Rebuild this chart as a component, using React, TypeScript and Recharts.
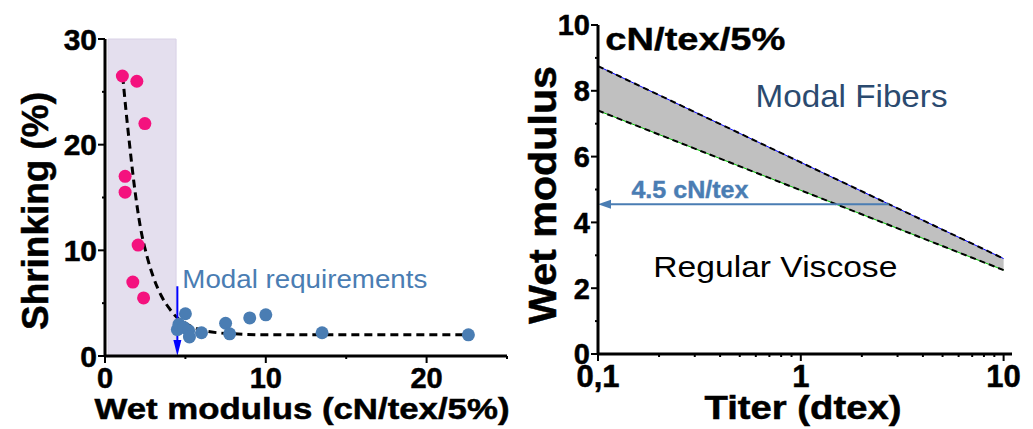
import React from 'react';
import {
  ComposedChart,
  Scatter,
  Line,
  Area,
  XAxis,
  YAxis,
  ReferenceArea,
  ReferenceLine,
  ReferenceDot,
} from 'recharts';

const FONT = '"Liberation Sans", Arial, Helvetica, sans-serif';
const PINK = '#f4127e';
const STEEL = '#4a7db3';

// left panel: shrinking (%) vs wet modulus (cN/tex/5%)
const viscosePoints = [
  { x: 1.08, y: 26.5 },
  { x: 1.98, y: 26.0 },
  { x: 2.48, y: 22.0 },
  { x: 1.25, y: 17.0 },
  { x: 1.25, y: 15.5 },
  { x: 2.06, y: 10.5 },
  { x: 1.73, y: 7.0 },
  { x: 2.4, y: 5.5 },
];

const modalPoints = [
  { x: 5.0, y: 4.0 },
  { x: 4.5, y: 2.5 },
  { x: 4.6, y: 3.0 },
  { x: 4.9, y: 2.7 },
  { x: 5.2, y: 2.4 },
  { x: 5.25, y: 1.8 },
  { x: 6.0, y: 2.2 },
  { x: 7.5, y: 3.1 },
  { x: 7.75, y: 2.1 },
  { x: 9.0, y: 3.6 },
  { x: 10.0, y: 3.9 },
  { x: 13.5, y: 2.2 },
  { x: 22.6, y: 2.0 },
];

// fitted trend
const trendCurve = [
  { x: 1.1, y: 26.5 },
  { x: 1.3, y: 23.3 },
  { x: 1.5, y: 20.4 },
  { x: 1.8, y: 16.4 },
  { x: 2.2, y: 12.2 },
  { x: 2.6, y: 9.5 },
  { x: 3.0, y: 7.5 },
  { x: 3.5, y: 5.7 },
  { x: 4.0, y: 4.5 },
  { x: 4.5, y: 3.6 },
  { x: 5.0, y: 3.1 },
  { x: 5.5, y: 2.7 },
  { x: 6.0, y: 2.45 },
  { x: 7.0, y: 2.2 },
  { x: 8.0, y: 2.1 },
  { x: 10.0, y: 2.0 },
  { x: 14.0, y: 2.0 },
  { x: 22.6, y: 2.0 },
];

const leftXTicks = [0, 5, 10, 15, 20, 25];
const leftXMajor = [0, 10, 20];
const leftYTicks = [0, 5, 10, 15, 20, 25, 30];
const leftYMajor = [0, 10, 20, 30];

// right panel: wet modulus vs titer (log)
const titer = [0.1, 10];
const modalLimit = [8.75, 2.9];
const viscoseLimit = [7.4, 2.55];

const rightXTicks = [0.1, 0.2, 0.3, 0.4, 0.5, 0.6, 0.7, 0.8, 0.9, 1, 2, 3, 4, 5, 6, 7, 8, 9, 10];
const rightXMajor = [0.1, 1, 10];
const rightXLabels = ['0,1', '1', '10'];
const rightYTicks = [0, 1, 2, 3, 4, 5, 6, 7, 8, 9, 10];
const rightYMajor = [0, 2, 4, 6, 8, 10];

const band = titer.map((t, i) => ({
  t,
  upper: modalLimit[i],
  lower: viscoseLimit[i],
  range: [viscoseLimit[i], modalLimit[i]],
}));

// bold text in the figure is heavier than plain bold
const heavy = { fontFamily: FONT, fontWeight: 'bold', fill: '#000', stroke: '#000', strokeWidth: 0.5 };

const BottomTick = (props: any) => {
  const { x, y, payload, majors, labels, fontSize, dy } = props;
  const idx = majors.indexOf(payload.value);
  const major = idx >= 0;
  return (
    <g>
      <line x1={x} y1={y} x2={x} y2={y + (major ? 7 : 3)} stroke="#000" strokeWidth={2} />
      {major && (
        <text x={x} y={y + dy} textAnchor="middle" fontSize={fontSize} {...heavy}>
          {labels ? labels[idx] : payload.value}
        </text>
      )}
    </g>
  );
};

const LeftTick = (props: any) => {
  const { x, y, payload, majors, fontSize } = props;
  const major = majors.includes(payload.value);
  return (
    <g>
      <line x1={x - (major ? 7 : 3)} y1={y} x2={x} y2={y} stroke="#000" strokeWidth={2} />
      {major && (
        <text x={x - 8} y={y + fontSize * 0.36} textAnchor="end" fontSize={fontSize} {...heavy}>
          {payload.value}
        </text>
      )}
    </g>
  );
};

const note = (str: string, opts: any) => (p: any) => (
  <text
    x={p.cx}
    y={p.cy}
    fontFamily={FONT}
    fontSize={opts.size}
    fontWeight={opts.bold ? 'bold' : 'normal'}
    fill={opts.color}
    stroke={opts.bold ? opts.color : 'none'}
    strokeWidth={opts.bold ? 0.4 : 0}
    textLength={opts.len}
    lengthAdjust="spacingAndGlyphs"
  >
    {str}
  </text>
);

const DownArrow = (p: any) => (
  <g>
    <line x1={p.x1} y1={p.y1} x2={p.x2} y2={p.y2 - 12} stroke="#0000ff" strokeWidth={2} />
    <polygon points={`${p.x2 - 4},${p.y2 - 16} ${p.x2 + 4},${p.y2 - 16} ${p.x2},${p.y2}`} fill="#0000ff" />
  </g>
);

const LeftArrow = (p: any) => (
  <g>
    <line x1={p.x1} y1={p.y1} x2={p.x2 + 10} y2={p.y2} stroke={STEEL} strokeWidth={2} />
    <polygon points={`${p.x2},${p.y2} ${p.x2 + 13},${p.y2 - 4.5} ${p.x2 + 13},${p.y2 + 4.5}`} fill={STEEL} />
  </g>
);

const axisLine = { stroke: '#000', strokeWidth: 3 };

export default function App() {
  return (
    <div style={{ position: 'absolute', left: 0, top: 0, width: 1033, height: 429, background: '#fff' }}>
      <div style={{ position: 'absolute', left: 0, top: 0 }}>
        <ComposedChart width={520} height={429} margin={{ top: 39, right: 13, bottom: 0, left: 0 }}>
          <XAxis
            type="number"
            dataKey="x"
            domain={[0, 25]}
            ticks={leftXTicks}
            interval={0}
            height={73}
            tickSize={0}
            tickMargin={0}
            tickLine={false}
            axisLine={axisLine}
            tick={(p: any) => <BottomTick {...p} majors={leftXMajor} fontSize={29} dy={32} />}
            label={() => (
              <text x={302} y={419} textAnchor="middle" fontSize={30} textLength={415} lengthAdjust="spacingAndGlyphs" {...heavy}>
                Wet modulus (cN/tex/5%)
              </text>
            )}
          />
          <YAxis
            type="number"
            dataKey="y"
            domain={[0, 30]}
            ticks={leftYTicks}
            interval={0}
            width={105}
            tickSize={0}
            tickMargin={0}
            tickLine={false}
            axisLine={axisLine}
            tick={(p: any) => <LeftTick {...p} majors={leftYMajor} fontSize={30} />}
            label={() => (
              <text x={48} y={211} transform="rotate(-90 48 211)" textAnchor="middle" fontSize={37} textLength={238} lengthAdjust="spacingAndGlyphs" {...heavy}>
                Shrinking (%)
              </text>
            )}
          />
          <ReferenceArea x1={0.19} x2={4.42} y1={0} y2={30} fill="#e4dfee" fillOpacity={1} stroke="#d9d2e6" strokeWidth={1} />
          <Line data={trendCurve} dataKey="y" type="monotone" stroke="#000" strokeWidth={3} strokeDasharray="8 5" dot={false} isAnimationActive={false} />
          <Scatter data={viscosePoints} isAnimationActive={false} shape={(p: any) => <circle cx={p.cx} cy={p.cy} r={6.5} fill={PINK} />} />
          <Scatter data={modalPoints} isAnimationActive={false} shape={(p: any) => <circle cx={p.cx} cy={p.cy} r={6.5} fill={STEEL} />} />
          <ReferenceLine segment={[{ x: 4.5, y: 6.6 }, { x: 4.5, y: 0 }]} shape={DownArrow} />
          <ReferenceDot x={4.81} y={6.4} r={0} shape={note('Modal requirements', { size: 26.5, color: STEEL, len: 245 })} />
        </ComposedChart>
      </div>
      <div style={{ position: 'absolute', left: 520, top: 0 }}>
        <ComposedChart width={513} height={429} margin={{ top: 25, right: 21, bottom: 0, left: 0 }}>
          <XAxis
            type="number"
            dataKey="t"
            scale="log"
            domain={[0.1, 11]}
            allowDataOverflow
            ticks={rightXTicks}
            interval={0}
            height={75}
            tickSize={0}
            tickMargin={0}
            tickLine={false}
            axisLine={axisLine}
            tick={(p: any) => <BottomTick {...p} majors={rightXMajor} labels={rightXLabels} fontSize={31} dy={33} />}
            label={() => (
              <text x={283} y={419} textAnchor="middle" fontSize={33} textLength={197} lengthAdjust="spacingAndGlyphs" {...heavy}>
                Titer (dtex)
              </text>
            )}
          />
          <YAxis
            type="number"
            domain={[0, 10]}
            ticks={rightYTicks}
            interval={0}
            width={78}
            tickSize={0}
            tickMargin={0}
            tickLine={false}
            axisLine={axisLine}
            tick={(p: any) => <LeftTick {...p} majors={rightYMajor} fontSize={29} />}
            label={() => (
              <text x={36} y={195} transform="rotate(-90 36 195)" textAnchor="middle" fontSize={38} textLength={258} lengthAdjust="spacingAndGlyphs" {...heavy}>
                Wet modulus
              </text>
            )}
          />
          <Area data={band} dataKey="range" type="linear" fill="#c0c0c0" fillOpacity={1} stroke="none" isAnimationActive={false} />
          <Line data={band} dataKey="upper" type="linear" stroke="#0000ff" strokeWidth={1} dot={false} isAnimationActive={false} />
          <Line data={band} dataKey="upper" type="linear" stroke="#000" strokeWidth={2} strokeDasharray="6 4" dot={false} isAnimationActive={false} />
          <Line data={band} dataKey="lower" type="linear" stroke="#00c000" strokeWidth={1} dot={false} isAnimationActive={false} />
          <Line data={band} dataKey="lower" type="linear" stroke="#000" strokeWidth={2} strokeDasharray="6 4" dot={false} isAnimationActive={false} />
          <ReferenceLine segment={[{ x: 2.72, y: 4.55 }, { x: 0.1, y: 4.55 }]} shape={LeftArrow} />
          <ReferenceDot x={0.1087} y={9.24} r={0} shape={note('cN/tex/5%', { size: 32, bold: true, color: '#000', len: 180 })} />
          <ReferenceDot x={0.598} y={7.5} r={0} shape={note('Modal Fibers', { size: 32, color: '#2b4a6f', len: 192 })} />
          <ReferenceDot x={0.1462} y={4.74} r={0} shape={note('4.5 cN/tex', { size: 24, bold: true, color: STEEL, len: 117 })} />
          <ReferenceDot x={0.1875} y={2.34} r={0} shape={note('Regular Viscose', { size: 30, color: '#000', len: 244 })} />
        </ComposedChart>
      </div>
    </div>
  );
}
